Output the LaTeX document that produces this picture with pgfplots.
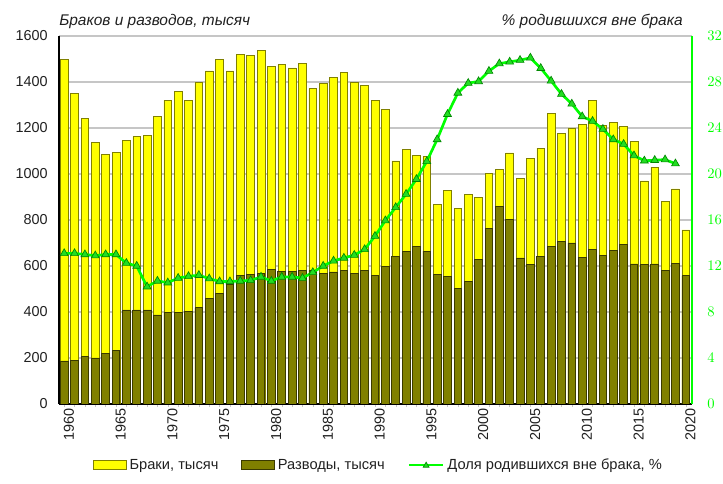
\documentclass[border=0pt]{standalone}
\usepackage{pgfplots}
\pgfplotsset{compat=1.18}
\usepackage{pgfplotstable}
\usepackage{fontspec}
\setmainfont{Liberation Sans}
\definecolor{yel}{HTML}{FFFF00}
\definecolor{yelb}{HTML}{808000}
\definecolor{oli}{HTML}{808000}
\definecolor{olib}{HTML}{3A3A00}
\definecolor{grn}{HTML}{00FF00}
\definecolor{grnf}{HTML}{22DD22}
\definecolor{grnd}{HTML}{008800}
\definecolor{txt}{HTML}{202020}

\pgfplotstableread{
year marr div
1960 1499 187
1961 1352 188
1962 1243 205
1963 1136 200
1964 1085 220
1965 1095 232
1966 1146 409
1967 1163 409
1968 1168 409
1969 1252 387
1970 1320 397
1971 1358 397
1972 1321 402
1973 1398 418
1974 1448 459
1975 1497 482
1976 1448 518
1977 1521 557
1978 1516 564
1979 1536 569
1980 1466 584
1981 1476 578
1982 1461 575
1983 1481 579
1984 1371 581
1985 1392 568
1986 1421 574
1987 1443 581
1988 1399 567
1989 1386 582
1990 1320 560
1991 1281 597
1992 1057 640
1993 1107 663
1994 1081 685
1995 1075 665
1996 868 563
1997 929 555
1998 850 501
1999 912 532
2000 897 627
2001 1002 764
2002 1020 857
2003 1092 802
2004 979 635
2005 1067 606
2006 1113 640
2007 1264 686
2008 1178 705
2009 1200 700
2010 1214 639
2011 1320 670
2012 1213 644
2013 1226 668
2014 1208 692
2015 1140 609
2016 970 606
2017 1030 609
2018 879 582
2019 935 612
2020 757 557
}\bars

\pgfplotstableread{
year ill
1960 13.1
1961 13.1
1962 13.0
1963 12.9
1964 13.0
1965 13.0
1966 12.25
1967 12.0
1968 10.2
1969 10.7
1970 10.55
1971 10.95
1972 11.1
1973 11.2
1974 10.9
1975 10.65
1976 10.65
1977 10.7
1978 10.75
1979 11.05
1980 10.7
1981 11.05
1982 11.05
1983 10.95
1984 11.45
1985 12.0
1986 12.45
1987 12.7
1988 12.95
1989 13.45
1990 14.6
1991 15.95
1992 17.1
1993 18.25
1994 19.55
1995 21.1
1996 23.0
1997 25.2
1998 27.05
1999 27.9
2000 28.05
2001 28.95
2002 29.6
2003 29.75
2004 29.9
2005 30.1
2006 29.2
2007 28.1
2008 26.95
2009 26.1
2010 25.0
2011 24.6
2012 23.9
2013 23.0
2014 22.6
2015 21.6
2016 21.15
2017 21.2
2018 21.25
2019 20.9
}\ill

\begin{document}
\begin{tikzpicture}[font=\fontsize{10.8}{13}\selectfont, text=txt]
\useasboundingbox (0,0) rectangle (542.25pt,363pt);
\begin{axis}[
  at={(44.25pt,60pt)}, anchor=south west,
  scale only axis, width=474.75pt, height=276pt,
  xmin=1959.5, xmax=2020.6, ymin=0, ymax=1600,
  axis x line*=bottom, axis y line*=left,
  axis line style={black, line width=0.8pt, -},
  ytick={0,200,...,1600},
  ymajorgrids, grid style={gray!45, line width=0.8pt},
  major tick length=0pt,
  xtick={1960,1965,...,2020},
  minor xtick={1960,...,2020},
  minor tick length=2.5pt, tick align=outside,
  minor tick style={gray!45},
  /pgf/number format/.cd, 1000 sep={}, assume math mode=true, /pgfplots/.cd,
  xticklabel style={rotate=90, anchor=east, yshift=-3.5pt, font=\fontsize{10.8}{12}\selectfont},
  yticklabel style={xshift=-5pt},
  legend style={at={(0.505,-0.166)}, anchor=center, draw=none, fill=none,
    legend columns=3, font=\fontsize{11}{13}\selectfont,
    /tikz/every even column/.append style={column sep=15pt},
    /tikz/every odd column/.append style={column sep=0pt},
    inner sep=0pt, nodes={inner sep=2pt}},
]
\addplot[ybar, bar width=5.8pt, bar shift=0pt, fill=yel, draw=yelb, line width=0.5pt,
  legend image code/.code={\draw[fill=yel, draw=yelb, line width=0.6pt] (0pt,-3.3pt) rectangle (25pt,3.3pt);}]
  table[x=year, y=marr]{\bars};
\addlegendentry{Браки, тысяч}
\addplot[ybar, bar width=5.8pt, bar shift=0pt, fill=oli, draw=olib, line width=0.6pt,
  legend image code/.code={\draw[fill=oli, draw=olib, line width=0.6pt] (0pt,-3.3pt) rectangle (25pt,3.3pt);}]
  table[x=year, y=div]{\bars};
\addlegendentry{Разводы, тысяч}
\addlegendimage{legend image code/.code={%
  \draw[grn, line width=2pt] (0pt,0pt) -- (26pt,0pt);
  \draw[fill=grnf, draw=grnd, line width=0.5pt] (13pt,2.2pt) -- (15.2pt,-1.6pt) -- (10.8pt,-1.6pt) -- cycle;}}
\addlegendentry{Доля родившихся вне брака, \%}
\end{axis}
\begin{axis}[
  at={(44.25pt,60pt)}, anchor=south west,
  scale only axis, width=474.75pt, height=276pt,
  xmin=1959.5, xmax=2020.6, ymin=0, ymax=32,
  axis y line*=right, axis x line=none,
  axis line style={grn, line width=0.8pt, -},
  ytick={0,4,...,32}, major tick length=0pt,
  yticklabel style={text=grn, xshift=8pt},
]
\addplot[grn, line width=2pt, mark=triangle*, mark size=3.4pt,
  mark options={fill=grnf, draw=grnd, line width=0.5pt}]
  table[x=year, y=ill]{\ill};
\end{axis}
\node[anchor=base west, inner sep=0pt, font=\fontsize{11.6}{13}\selectfont\itshape] at (44.25pt,343.5pt) {Браков и разводов, тысяч};
\node[anchor=base east, inner sep=0pt, font=\fontsize{11.6}{13}\selectfont\itshape] at (512.25pt,343.5pt) {\% родившихся вне брака};
\end{tikzpicture}
\end{document}
